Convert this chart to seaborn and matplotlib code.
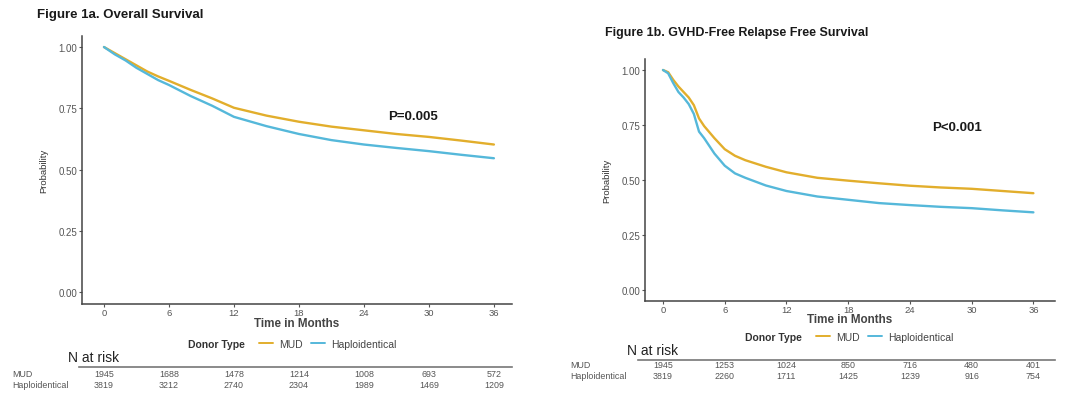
import numpy as np
import pandas as pd
import matplotlib
matplotlib.use("Agg")
import matplotlib.pyplot as plt
from matplotlib.lines import Line2D
import seaborn as sns

W_PX = 1080
H_PX = 402

# colours of the two donor groups
PALETTE = {"MUD": "#E2AE2C", "Haploidentical": "#55B8DA"}
GROUPS = ["MUD", "Haploidentical"]

# Figure 1a - overall survival
os_months = [0, 1, 2, 3, 4, 5, 6, 8, 10, 12, 15, 18, 21, 24, 27, 30, 33, 36]
os_mud = [1.0, 0.975, 0.95, 0.925, 0.90, 0.88, 0.862, 0.825, 0.79, 0.752,
          0.72, 0.695, 0.675, 0.66, 0.645, 0.633, 0.618, 0.602]
os_haplo = [1.0, 0.97, 0.945, 0.915, 0.89, 0.865, 0.845, 0.80, 0.76, 0.715,
            0.677, 0.645, 0.62, 0.602, 0.588, 0.575, 0.56, 0.546]

# Figure 1b - GVHD-free relapse free survival
grfs_months = [0, 0.5, 1, 1.5, 2, 2.5, 3, 3.5, 4, 5, 6, 7, 8, 10, 12, 15,
               18, 21, 24, 27, 30, 33, 36]
grfs_mud = [1.0, 0.99, 0.955, 0.925, 0.90, 0.875, 0.84, 0.78, 0.745, 0.69,
            0.64, 0.61, 0.59, 0.56, 0.535, 0.51, 0.497, 0.485, 0.474, 0.466,
            0.46, 0.45, 0.44]
grfs_haplo = [1.0, 0.985, 0.94, 0.90, 0.875, 0.845, 0.80, 0.72, 0.69, 0.62,
              0.565, 0.53, 0.51, 0.475, 0.45, 0.425, 0.41, 0.395, 0.386,
              0.378, 0.372, 0.362, 0.353]

# number at risk tables
risk_times = [0, 6, 12, 18, 24, 30, 36]
os_risk_mud = [1945, 1688, 1478, 1214, 1008, 693, 572]
os_risk_haplo = [3819, 3212, 2740, 2304, 1989, 1469, 1209]
grfs_risk_mud = [1945, 1253, 1024, 850, 716, 480, 401]
grfs_risk_haplo = [3819, 2260, 1711, 1425, 1239, 916, 754]

x_ticks = [0, 6, 12, 18, 24, 30, 36]
y_ticks = [0.0, 0.25, 0.5, 0.75, 1.0]
y_tick_labels = ["0.00", "0.25", "0.50", "0.75", "1.00"]

sns.set_style("white")
plt.rcParams["font.family"] = ["Liberation Sans", "DejaVu Sans"]

TICK_COLOR = "#555555"
SPINE_COLOR = "#444444"


def px_box(left, top, right, bottom):
    # convert pixel box to figure fraction
    return [left / W_PX, (H_PX - bottom) / H_PX,
            (right - left) / W_PX, (bottom - top) / H_PX]


def make_long(months, mud, haplo):
    df_mud = pd.DataFrame({"time": months, "surv": mud, "group": "MUD"})
    df_hap = pd.DataFrame({"time": months, "surv": haplo, "group": "Haploidentical"})
    return pd.concat([df_mud, df_hap], ignore_index=True)


def draw_panel(fig, box, xlim, ylim, df, title, title_xy, title_size, ptext, pxy,
               xlabel_y, legend_y, legend_x, risk_y, risk_left, natrisk_xy,
               risk_mud, risk_haplo, rowlab_x, row_y):
    ax = fig.add_axes(px_box(*box))
    sns.lineplot(data=df, x="time", y="surv", hue="group", hue_order=GROUPS,
                 palette=PALETTE, linewidth=1.7, ax=ax, legend=False)
    ax.set_xlim(*xlim)
    ax.set_ylim(*ylim)
    ax.set_xticks(x_ticks)
    ax.set_yticks(y_ticks)
    ax.set_yticklabels(y_tick_labels)
    ax.tick_params(axis="both", labelsize=7, colors=TICK_COLOR, length=2,
                   width=0.8, pad=1.5, labelcolor=TICK_COLOR)
    ax.tick_params(axis="x", pad=0.8, labelsize=6.8)
    ax.tick_params(axis="both", left=True, bottom=True)
    for side in ["top", "right"]:
        ax.spines[side].set_visible(False)
    for side in ["left", "bottom"]:
        ax.spines[side].set_color(SPINE_COLOR)
        ax.spines[side].set_linewidth(1.1)
    ax.set_xlabel("")
    ax.set_ylabel("Probability", fontsize=6.8, color="#333333", labelpad=7)
    ax.text(pxy[0], pxy[1], ptext, fontsize=9.5, fontweight="bold",
            color="#1a1a1a", ha="left", va="center")

    # titles and labels in figure pixels
    fig.text(title_xy[0] / W_PX, 1 - title_xy[1] / H_PX, title,
             fontsize=title_size, fontweight="bold", ha="left", va="center",
             color="#1a1a1a")
    mid_x = (box[0] + box[2]) / 2
    fig.text(mid_x / W_PX, 1 - xlabel_y / H_PX, "Time in Months",
             fontsize=8.4, fontweight="bold", color="#444444", ha="center",
             va="center")

    # legend: "Donor Type" then two short line keys
    fig.text(legend_x / W_PX, 1 - legend_y / H_PX, "Donor Type", fontsize=7.5,
             fontweight="bold", color="#333333", ha="left", va="center")
    handles = [Line2D([0], [0], color=PALETTE[g], lw=1.4) for g in GROUPS]
    fig.legend(handles, GROUPS, ncol=2, frameon=False, fontsize=7.5,
               handlelength=1.3, handletextpad=0.6, columnspacing=0.8,
               loc="center left",
               bbox_to_anchor=((legend_x + 62) / W_PX, 1 - legend_y / H_PX),
               labelcolor="#444444")

    # N at risk table
    fig.text(natrisk_xy[0] / W_PX, 1 - natrisk_xy[1] / H_PX, "N at risk",
             fontsize=10, color="#222222", ha="left", va="center")
    tab = fig.add_axes(px_box(risk_left, risk_y, box[2], risk_y + 30))
    tab.set_xlim(xlim[0] - (box[0] - risk_left) * (xlim[1] - xlim[0]) / (box[2] - box[0]),
                 xlim[1])
    tab.set_ylim(0, 30)
    tab.invert_yaxis()
    tab.set_xticks([])
    tab.set_yticks([])
    for side in ["bottom", "left", "right"]:
        tab.spines[side].set_visible(False)
    tab.spines["top"].set_color("#777777")
    tab.spines["top"].set_linewidth(1.2)
    tab.patch.set_alpha(0)
    for t, m, h in zip(risk_times, risk_mud, risk_haplo):
        tab.text(t, row_y[0], str(m), fontsize=6.4, color="#555555",
                 ha="center", va="center")
        tab.text(t, row_y[1], str(h), fontsize=6.4, color="#555555",
                 ha="center", va="center")
    fig.text(rowlab_x / W_PX, 1 - (risk_y + row_y[0]) / H_PX, "MUD",
             fontsize=6.4, color="#555555", ha="left", va="center")
    fig.text(rowlab_x / W_PX, 1 - (risk_y + row_y[1]) / H_PX, "Haploidentical",
             fontsize=6.4, color="#555555", ha="left", va="center")
    return ax


fig = plt.figure(figsize=(W_PX / 100, H_PX / 100), dpi=100)
fig.patch.set_facecolor("white")

df_os = make_long(os_months, os_mud, os_haplo)
df_grfs = make_long(grfs_months, grfs_mud, grfs_haplo)

draw_panel(fig, (82, 37, 512, 305), (-2.03, 37.67), (-0.049, 1.045), df_os,
           "Figure 1a. Overall Survival", (37, 15), 9.5, "P=0.005", (26.2, 0.72),
           324, 345, 188, 368, 79, (68, 358),
           os_risk_mud, os_risk_haplo, 12, (7, 18))

draw_panel(fig, (645, 60, 1055, 302), (-1.75, 38.1), (-0.05, 1.05), df_grfs,
           "Figure 1b. GVHD-Free Relapse Free Survival", (605, 33), 9,
           "P<0.001", (26.2, 0.74), 320, 338, 745, 361, 638, (627, 351),
           grfs_risk_mud, grfs_risk_haplo, 570, (5, 16))

fig.savefig("out.png", dpi=100, facecolor="white")
